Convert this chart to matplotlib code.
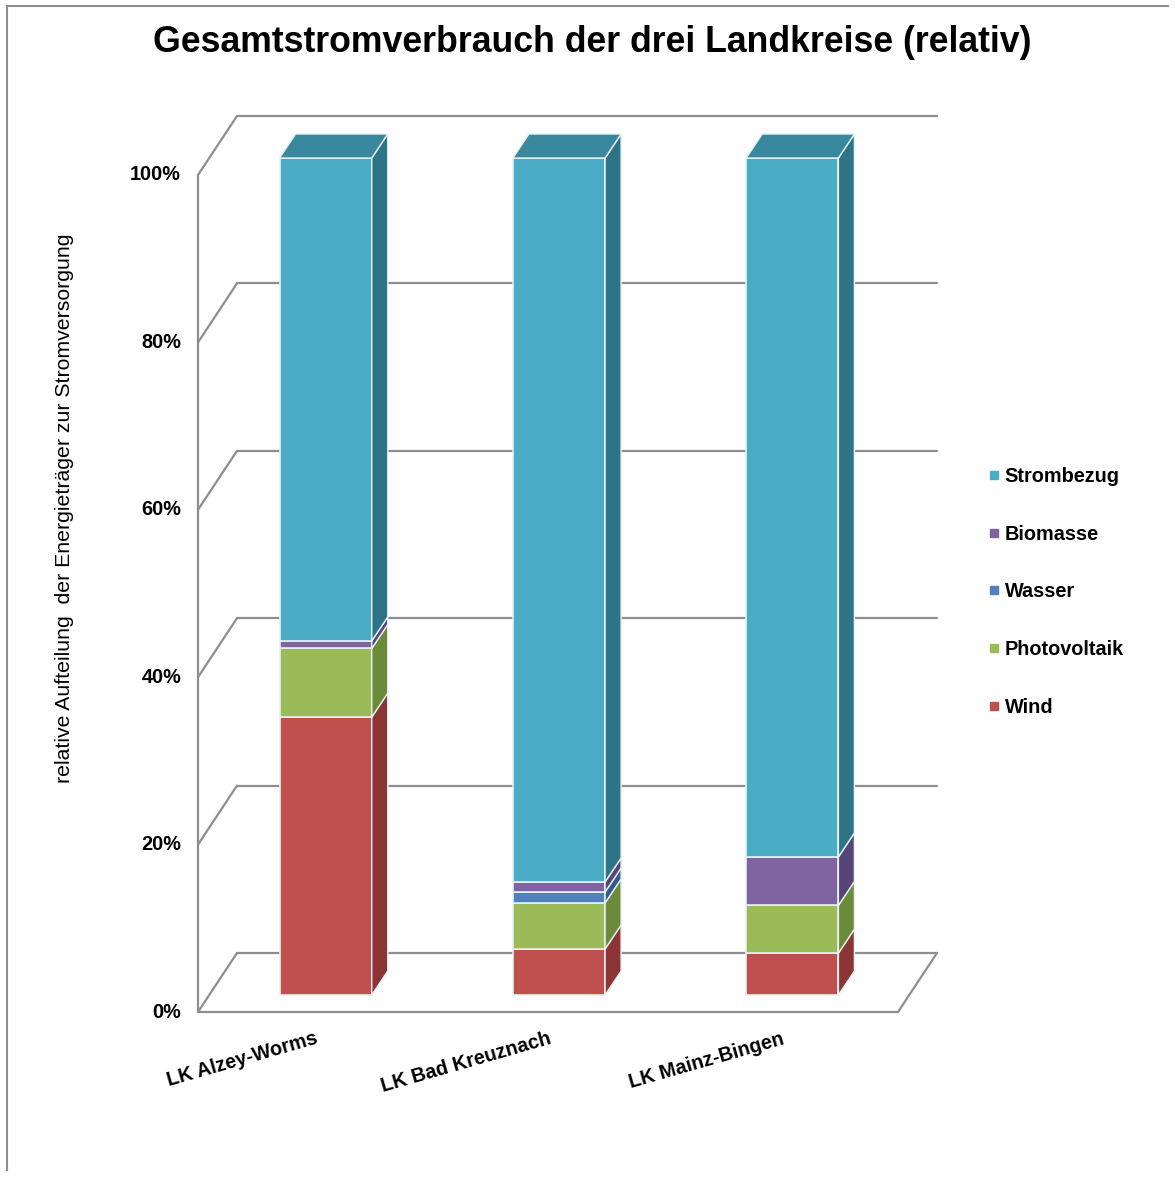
import numpy as np
import matplotlib.pyplot as plt
from matplotlib.patches import Polygon, Rectangle
from matplotlib.lines import Line2D
from matplotlib.transforms import offset_copy

plt.rcParams['font.family'] = ['Liberation Sans', 'DejaVu Sans']

districts = ['LK Alzey-Worms', 'LK Bad Kreuznach', 'LK Mainz-Bingen']
sources = ['Wind', 'Photovoltaik', 'Wasser', 'Biomasse', 'Strombezug']
wind = [33.2, 5.5, 5.0]
photovoltaik = [8.2, 5.5, 5.7]
wasser = [0.0, 1.3, 0.0]
biomasse = [0.9, 1.2, 5.8]
strombezug = [57.7, 86.5, 83.5]
yticks = [0, 20, 40, 60, 80, 100]

# front, side and top shades per source
front_col = ['#C0504D', '#9BBB59', '#4F81BD', '#8064A2', '#4BACC6']
side_col = ['#8A3533', '#6B8A3A', '#36598A', '#584577', '#2F7486']
top_col = ['#9C3F3C', '#7A9A45', '#40699C', '#664F88', '#3A889E']

W, H = 1175, 1178
fig = plt.figure(figsize=(W / 100, H / 100), dpi=100)
ax_l, ax_b, ax_w, ax_h = 198, 166, 700, 837
ax = fig.add_axes([ax_l / W, ax_b / H, ax_w / W, ax_h / H])
ax.set_xlim(-0.5, 2.5)
ax.set_ylim(0, 100)
ax.axis('off')

ux = ax_w / 3.0
uy = ax_h / 100.0


def shift(px, py):
    return px / ux, py / uy


wall_dx, wall_dy = shift(39, 59)
bar_dx, bar_dy = shift(11, 17)
dep_dx, dep_dy = shift(16, 24)
grid_kw = dict(color='#8E8E8E', lw=1.6, solid_capstyle='round', zorder=1, clip_on=False)

# back wall gridlines + left side wall diagonals
for t in yticks:
    ax.plot([-0.5 + wall_dx, 2.5 + wall_dx], [t + wall_dy, t + wall_dy], **grid_kw)
    ax.plot([-0.5, -0.5 + wall_dx], [t, t + wall_dy], **grid_kw)
# front axis line, floor front edge and right floor edge
ax.plot([-0.5, -0.5], [0, 100], **grid_kw)
ax.plot([-0.5, 2.5], [0, 0], **grid_kw)
ax.plot([2.5, 2.5 + wall_dx], [0, wall_dy], **grid_kw)

# stacked 3d columns
stack = np.array([wind, photovoltaik, wasser, biomasse, strombezug])
bw = 0.395
edge = '#E6F2F4'
for i in range(len(districts)):
    x0 = i - bw / 2 + bar_dx
    x1 = i + bw / 2 + bar_dx
    base = bar_dy
    for k in range(len(sources)):
        v = stack[k, i]
        if v <= 0:
            continue
        y0, y1 = base, base + v
        ax.add_patch(Rectangle((x0, y0), x1 - x0, v, facecolor=front_col[k],
                               edgecolor=edge, lw=1.2, zorder=3, clip_on=False))
        ax.add_patch(Polygon([(x1, y0), (x1 + dep_dx, y0 + dep_dy),
                              (x1 + dep_dx, y1 + dep_dy), (x1, y1)],
                             closed=True, facecolor=side_col[k],
                             edgecolor=edge, lw=1.0, zorder=3, clip_on=False))
        if k == len(sources) - 1:
            ax.add_patch(Polygon([(x0, y1), (x0 + dep_dx, y1 + dep_dy),
                                  (x1 + dep_dx, y1 + dep_dy), (x1, y1)],
                                 closed=True, facecolor=top_col[k],
                                 edgecolor=edge, lw=1.0, zorder=3, clip_on=False))
        base = y1

# value axis labels
for t in yticks:
    ax.text(-0.5, t, f'{t}%', transform=offset_copy(ax.transData, fig, x=-17, y=0, units='dots'),
            ha='right', va='center', fontsize=14.3, fontweight='bold')

# category labels
for i, name in enumerate(districts):
    ax.text(i, 0, name, transform=offset_copy(ax.transData, fig, x=0, y=-17, units='dots'),
            ha='right', va='top', rotation=16, rotation_mode='anchor',
            fontsize=14.2, fontweight='bold')

fig.text(592 / W, 1 - 42 / H, 'Gesamtstromverbrauch der drei Landkreise (relativ)',
         ha='center', va='center', fontsize=25.7, fontweight='bold')
fig.text(65 / W, 1 - 508 / H, 'relative Aufteilung  der Energieträger zur Stromversorgung',
         ha='center', va='center', rotation=90, fontsize=15.3)

handles = [Line2D([], [], marker='s', ls='none', markersize=6,
                  markerfacecolor=front_col[k], markeredgecolor=front_col[k])
           for k in range(len(sources))][::-1]
fig.legend(handles, sources[::-1], loc='upper left', bbox_to_anchor=(980 / W, 1 - 459 / H),
           frameon=False, prop=dict(size=14.3, weight='bold'), handlelength=0.6,
           handletextpad=0.25, labelspacing=1.95, borderaxespad=0)

# outer frame
fig.add_artist(Line2D([7 / W, 7 / W], [1 - 6 / H, 1 - 1170 / H], color='#8E8E8E', lw=1.5))
fig.add_artist(Line2D([7 / W, 1168 / W], [1 - 6 / H, 1 - 6 / H], color='#8E8E8E', lw=1.5))

fig.savefig('out.png', dpi=100)
